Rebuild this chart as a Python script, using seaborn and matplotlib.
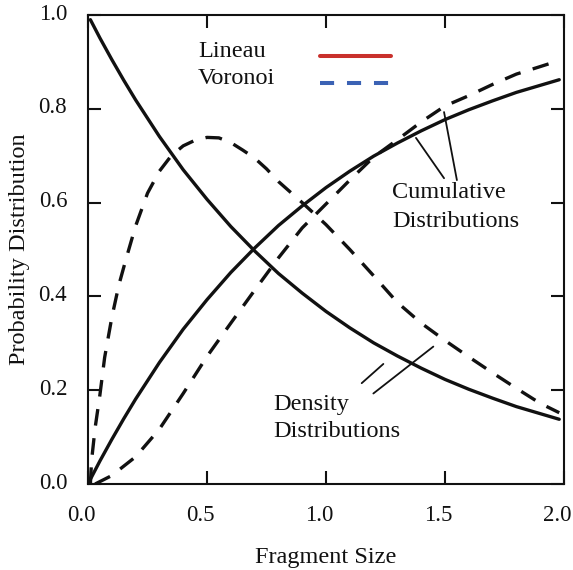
import matplotlib
matplotlib.use("Agg")
import matplotlib.pyplot as plt
import matplotlib.transforms as mtransforms
from matplotlib.lines import Line2D
import seaborn as sns

# Fragment-size distributions: Lineau (solid) and Voronoi (dashed)
lineau_x = [0.01, 0.05, 0.1, 0.15, 0.2, 0.3, 0.4, 0.5, 0.6, 0.7, 0.8, 0.9, 1.0,
            1.1, 1.2, 1.3, 1.4, 1.5, 1.6, 1.7, 1.8, 1.9, 1.98]
lineau_density = [0.99, 0.951, 0.905, 0.861, 0.819, 0.741, 0.670, 0.607, 0.549,
                  0.497, 0.449, 0.407, 0.368, 0.333, 0.301, 0.273, 0.247, 0.223,
                  0.202, 0.183, 0.165, 0.150, 0.138]
lineau_cumulative = [0.01, 0.049, 0.095, 0.139, 0.181, 0.259, 0.330, 0.393, 0.451,
                     0.503, 0.551, 0.593, 0.632, 0.667, 0.699, 0.727, 0.753, 0.777,
                     0.798, 0.817, 0.835, 0.850, 0.862]

voronoi_density_x = [0.01, 0.015, 0.03, 0.05, 0.07, 0.1, 0.13, 0.16, 0.2, 0.25, 0.3,
                     0.35, 0.4, 0.45, 0.5, 0.55, 0.6, 0.65, 0.7, 0.75, 0.8, 0.9,
                     1.0, 1.1, 1.2, 1.3, 1.4, 1.5, 1.6, 1.7, 1.8, 1.9, 1.98]
voronoi_density = [0.0, 0.05, 0.12, 0.19, 0.27, 0.355, 0.425, 0.48, 0.55, 0.62,
                   0.667, 0.70, 0.721, 0.733, 0.739, 0.738, 0.728, 0.712, 0.695,
                   0.672, 0.645, 0.60, 0.553, 0.50, 0.444, 0.387, 0.343, 0.306,
                   0.271, 0.237, 0.204, 0.172, 0.152]

voronoi_cum_x = [0.03, 0.1, 0.2, 0.3, 0.4, 0.5, 0.6, 0.7, 0.8, 0.9, 1.0, 1.1, 1.2,
                 1.3, 1.4, 1.5, 1.6, 1.7, 1.8, 1.9, 1.98]
voronoi_cumulative = [0.0, 0.018, 0.058, 0.117, 0.193, 0.272, 0.343, 0.413, 0.482,
                      0.546, 0.597, 0.648, 0.697, 0.734, 0.772, 0.806, 0.828,
                      0.852, 0.874, 0.890, 0.903]

series_names = ["Lineau", "Voronoi"]
x_ticks = [0.0, 0.5, 1.0, 1.5, 2.0]
y_ticks = [0.0, 0.2, 0.4, 0.6, 0.8, 1.0]

sns.set_theme(style="ticks")
plt.rcParams["font.family"] = ["Liberation Serif", "DejaVu Serif"]
plt.rcParams["axes.linewidth"] = 1.5

FS = 17.5
TICK_FS = 16.5
INK = "#111111"
LW = 2.4
DASH = (0, (5.0, 3.8))

fig = plt.figure(figsize=(5.73, 5.70), dpi=100)
ax = fig.add_axes([88 / 573, 86 / 570, 476 / 573, 469 / 570])

line_kw = dict(ax=ax, color=INK, lw=LW, sort=False, estimator=None)
sns.lineplot(x=lineau_x, y=lineau_density, **line_kw)
sns.lineplot(x=lineau_x, y=lineau_cumulative, **line_kw)
sns.lineplot(x=voronoi_density_x, y=voronoi_density, linestyle=DASH, **line_kw)
sns.lineplot(x=voronoi_cum_x, y=voronoi_cumulative, linestyle=DASH, **line_kw)

ax.set_xlim(0, 2)
ax.set_ylim(0, 1)
ax.set_xticks(x_ticks)
ax.set_yticks(y_ticks)
ax.set_xticklabels([f"{v:.1f}" for v in x_ticks], fontsize=TICK_FS)
ax.set_yticklabels([f"{v:.1f}" for v in y_ticks], fontsize=TICK_FS)
ax.tick_params(direction="in", length=9.5, width=1.5, top=True, right=True,
               colors=INK)
ax.tick_params(axis="x", pad=15)
ax.tick_params(axis="y", pad=15)
for s in ax.spines.values():
    s.set_visible(True)
    s.set_color(INK)

# small nudges of the tick labels
dx = mtransforms.ScaledTranslation(-5 / 72, 0, fig.dpi_scale_trans)
for lab in ax.get_xticklabels():
    lab.set_transform(lab.get_transform() + dx)
dy = mtransforms.ScaledTranslation(0, 2.5 / 72, fig.dpi_scale_trans)
for lab in ax.get_yticklabels():
    lab.set_transform(lab.get_transform() + dy)

ax.set_xlabel("Fragment Size", fontsize=FS, labelpad=15, color=INK)
ax.set_ylabel("Probability Distribution", fontsize=FS, labelpad=6, color=INK)

# Legend: names on the left, line samples on the right
handles = [
    Line2D([], [], color="#c9302c", lw=2.9),
    Line2D([], [], color="#3b62b4", lw=2.9, linestyle=(0, (3.5, 3.2))),
]
leg = ax.legend(handles, ["", ""], loc="upper left",
                bbox_to_anchor=(0.4874, 0.930), frameon=False,
                fontsize=FS, handlelength=2.92, handletextpad=0,
                labelspacing=0.19, borderpad=0, borderaxespad=0)
name_kw = dict(transform=ax.transAxes, fontsize=FS, color=INK, ha="left",
               va="baseline")
ax.text(0.231, 0.910, series_names[0], **name_kw)
ax.text(0.231, 0.852, series_names[1], **name_kw)

# Annotations with thin pointer lines
txt_kw = dict(fontsize=FS, color=INK, ha="left", va="baseline")
ax.text(1.277, 0.609, "Cumulative", **txt_kw)
ax.text(1.277, 0.549, "Distributions", **txt_kw)
ax.text(0.777, 0.158, "Density", **txt_kw)
ax.text(0.777, 0.100, "Distributions", **txt_kw)

ptr = dict(arrowstyle="-", color=INK, lw=1.3, shrinkA=0, shrinkB=0)
ax.annotate("", xy=(1.378, 0.738), xytext=(1.496, 0.652), arrowprops=ptr)
ax.annotate("", xy=(1.496, 0.793), xytext=(1.550, 0.648), arrowprops=ptr)
ax.annotate("", xy=(1.241, 0.256), xytext=(1.150, 0.215), arrowprops=ptr)
ax.annotate("", xy=(1.451, 0.293), xytext=(1.199, 0.193), arrowprops=ptr)

fig.savefig("out.png", dpi=100)
